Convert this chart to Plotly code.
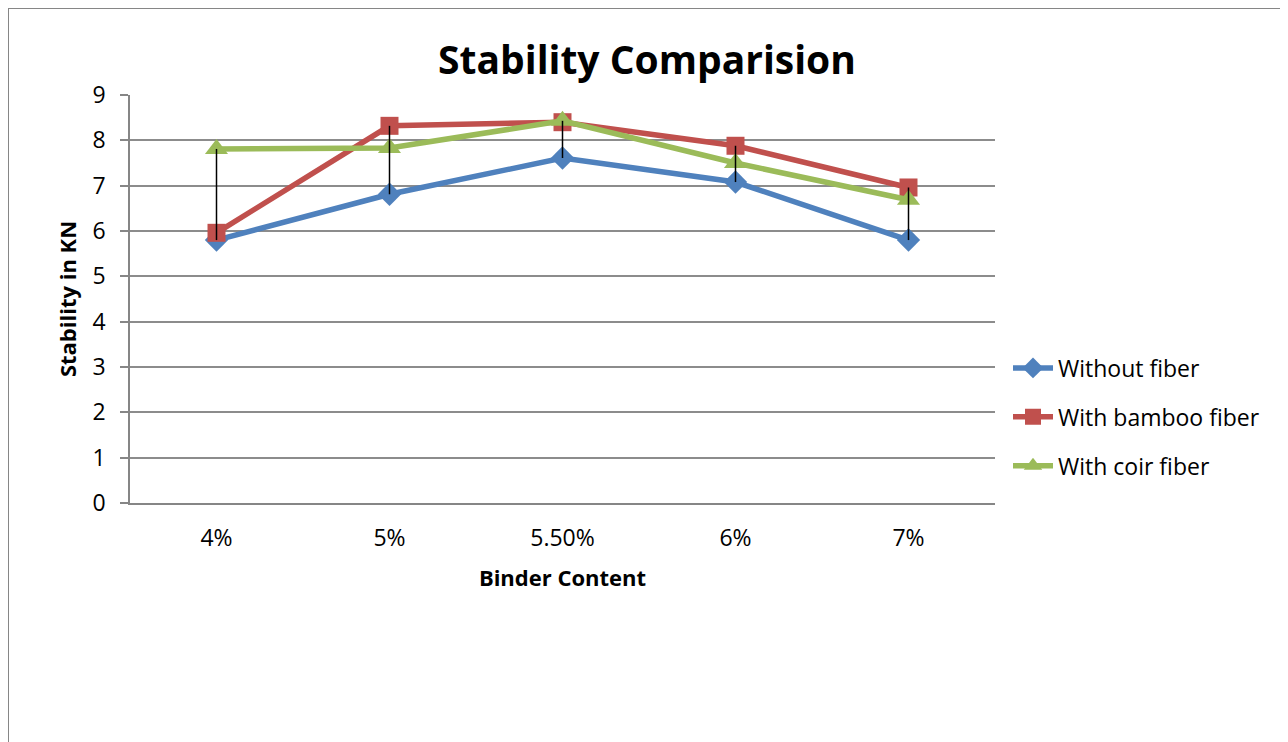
import plotly.graph_objects as go

categories = ["4%", "5%", "5.50%", "6%", "7%"]
without_fiber = [5.80, 6.81, 7.61, 7.08, 5.80]
bamboo_fiber = [5.96, 8.32, 8.40, 7.88, 6.96]
coir_fiber = [7.81, 7.83, 8.43, 7.50, 6.69]
series_names = ["Without fiber", "With bamboo fiber", "With coir fiber"]
y_ticks = [0, 1, 2, 3, 4, 5, 6, 7, 8, 9]

colors = ["#4F81BD", "#C0504D", "#9BBB59"]
symbols = ["diamond", "square", "triangle-up"]
msizes = [18, 18, 20]
FONT = "'Open Sans', sans-serif"

fig = go.Figure()
for i, (name, vals) in enumerate(zip(series_names, [without_fiber, bamboo_fiber, coir_fiber])):
    fig.add_trace(go.Scatter(
        x=categories, y=vals, name=name, mode="lines+markers",
        line=dict(color=colors[i], width=5.5),
        marker=dict(symbol=symbols[i], size=msizes[i], color=colors[i]),
        legendgroup=f"g{i}",
    ))

# high-low lines
hx, hy = [], []
for j, c in enumerate(categories):
    vals = [without_fiber[j], bamboo_fiber[j], coir_fiber[j]]
    hx += [c, c, None]
    hy += [min(vals), max(vals), None]
fig.add_trace(go.Scatter(x=hx, y=hy, mode="lines", line=dict(color="black", width=1.5),
                         showlegend=False, hoverinfo="skip"))

OFF = 8  # page body margin
W, H = 1288 - OFF, 742 - OFF
L, R, T, B = 130 - OFF, 995 - OFF, 95 - OFF, 503 - OFF
pw, ph = R - L, B - T

fig.update_layout(
    width=W, height=H,
    margin=dict(l=L, r=W - R, t=T, b=H - B, pad=0),
    paper_bgcolor="white", plot_bgcolor="white",
    font=dict(family=FONT, color="black", size=22),
    title=dict(text="<b>Stability Comparision</b>", x=(647 - OFF - L) / pw, xref="paper",
               xanchor="center", y=1 - (60 - OFF) / H, yanchor="middle",
               font=dict(size=39, family=FONT, color="black")),
    showlegend=True,
    legend=dict(x=(1008 - OFF - L) / pw, y=(B - (417 - OFF)) / ph, xanchor="left", yanchor="middle",
                font=dict(size=23, family=FONT), tracegroupgap=16,
                bgcolor="rgba(0,0,0,0)", itemwidth=40),
    xaxis=dict(
        type="category", categoryorder="array", categoryarray=categories,
        range=[-0.5, len(categories) - 0.5],
        showgrid=False, showline=True, linecolor="#868686", linewidth=1.5,
        ticks="", tickfont=dict(size=23, family=FONT), ticklabelstandoff=14,
        title=dict(text="<b>Binder Content</b>", font=dict(size=22, family=FONT), standoff=18),
        zeroline=False,
    ),
    yaxis=dict(
        range=[0, 9], tickvals=y_ticks, showgrid=True, gridcolor="#8c8c8c", gridwidth=1.5,
        showline=True, linecolor="#868686", linewidth=1.5,
        ticks="outside", ticklen=8, tickcolor="#868686", tickwidth=1.5,
        tickfont=dict(size=23, family=FONT), ticklabelstandoff=10,
        title=dict(text="<b>Stability in KN</b>", font=dict(size=22, family=FONT), standoff=10),
        zeroline=False,
    ),
)

# outer chart border
fig.add_shape(type="rect", xref="paper", yref="paper",
              x0=(0 - L) / pw, x1=(W + 20 - L) / pw,
              y0=(B - (H + 20)) / ph, y1=(B - 0) / ph,
              line=dict(color="#868686", width=2), fillcolor="rgba(0,0,0,0)", layer="below")

fig.write_html("out.html")
